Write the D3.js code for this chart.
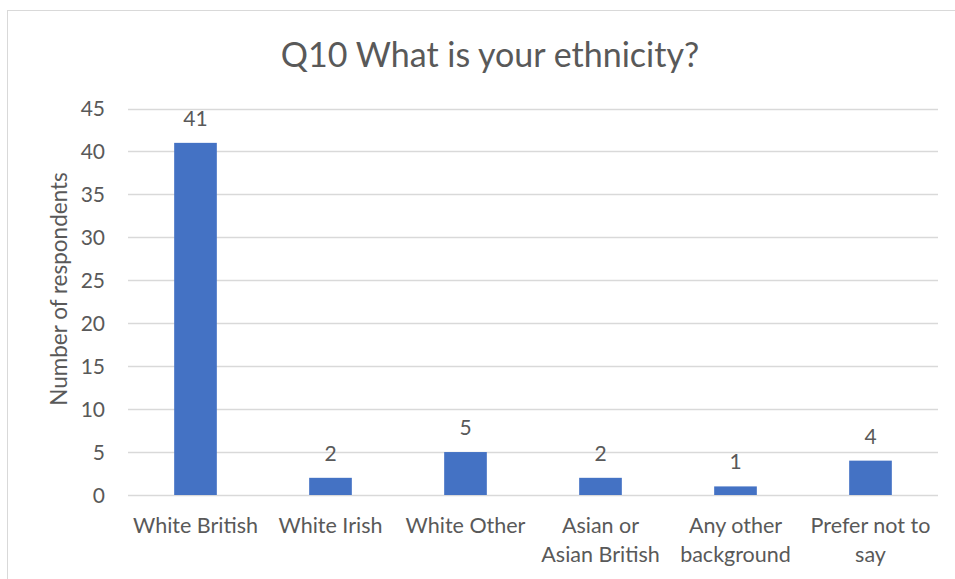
<!DOCTYPE html>
<html>
<head>
<meta charset="utf-8">
<script src="https://cdn.jsdelivr.net/npm/d3@7"></script>
<style>
  body { margin: 0; background: #fff; }
  svg text { font-family: "Lato", "Open Sans", sans-serif; fill: #595959; }
</style>
</head>
<body>
<div id="chart"></div>
<script>
// chart values
var categories = [["White British"], ["White Irish"], ["White Other"], ["Asian or", "Asian British"], ["Any other", "background"], ["Prefer not to", "say"]];
var respondents = [41, 2, 5, 2, 1, 4];
var yTicks = [0, 5, 10, 15, 20, 25, 30, 35, 40, 45];
var title = "Q10 What is your ethnicity?";
var yTitle = "Number of respondents";

var width = 955, height = 579;
var margin = { top: 108.5, right: 17, bottom: 84, left: 128 };

var svg = d3.select('#chart').append('svg')
    .attr('width', width)
    .attr('height', height);

// chart border
svg.append('rect')
    .attr('x', 7.5).attr('y', 10.5)
    .attr('width', 960).attr('height', 600)
    .attr('fill', 'none')
    .attr('stroke', '#d9d9d9');

var x = d3.scaleBand()
    .domain(categories.map(function (d) { return d.join(' '); }))
    .range([margin.left, width - margin.right])
    .paddingInner(0.684)
    .paddingOuter(0.342);

var y = d3.scaleLinear()
    .domain([0, 45])
    .range([height - margin.bottom, margin.top]);

// gridlines
svg.append('g')
    .selectAll('line')
    .data(yTicks)
    .enter().append('line')
    .attr('x1', margin.left).attr('x2', width - margin.right)
    .attr('y1', function (d) { return Math.round(y(d)) + 0.5; })
    .attr('y2', function (d) { return Math.round(y(d)) + 0.5; })
    .attr('stroke', '#d9d9d9')
    .attr('stroke-width', 1.3);

// y tick labels
var yAxis = svg.append('g')
    .attr('transform', 'translate(' + (margin.left - 23) + ',0)')
    .call(d3.axisLeft(y).tickValues(yTicks).tickSize(0).tickPadding(0));
yAxis.select('.domain').remove();
yAxis.selectAll('text')
    .attr('fill', '#595959')
    .style('font-size', '21px')
    .style('font-family', '"Lato", "Open Sans", sans-serif')
    .attr('dy', '0.35em');

// bars
svg.append('g')
    .selectAll('rect')
    .data(respondents)
    .enter().append('rect')
    .attr('x', function (d, i) { return x(categories[i].join(' ')); })
    .attr('y', function (d) { return y(d); })
    .attr('width', x.bandwidth())
    .attr('height', function (d) { return y(0) - y(d); })
    .attr('fill', '#4472c4');

// data labels
svg.append('g')
    .selectAll('text')
    .data(respondents)
    .enter().append('text')
    .attr('x', function (d, i) { return x(categories[i].join(' ')) + x.bandwidth() / 2; })
    .attr('y', function (d) { return y(d) - 17; })
    .attr('text-anchor', 'middle')
    .style('font-size', '21px')
    .text(function (d) { return d; });

// category labels
var cat = svg.append('g')
    .selectAll('text')
    .data(categories)
    .enter().append('text')
    .attr('x', function (d) { return x(d.join(' ')) + x.bandwidth() / 2; })
    .attr('y', 533)
    .attr('text-anchor', 'middle')
    .style('font-size', '21.5px');
cat.selectAll('tspan')
    .data(function (d) { return d; })
    .enter().append('tspan')
    .attr('x', function () { return d3.select(this.parentNode).attr('x'); })
    .attr('dy', function (d, i) { return i === 0 ? 0 : 29; })
    .text(function (d) { return d; });

// title
svg.append('text')
    .attr('x', 490)
    .attr('y', 67)
    .attr('text-anchor', 'middle')
    .style('font-size', '34px')
    .text(title);

// y axis title
svg.append('text')
    .attr('transform', 'translate(67,289) rotate(-90)')
    .attr('text-anchor', 'middle')
    .style('font-size', '22.5px')
    .text(yTitle);
</script>
</body>
</html>
